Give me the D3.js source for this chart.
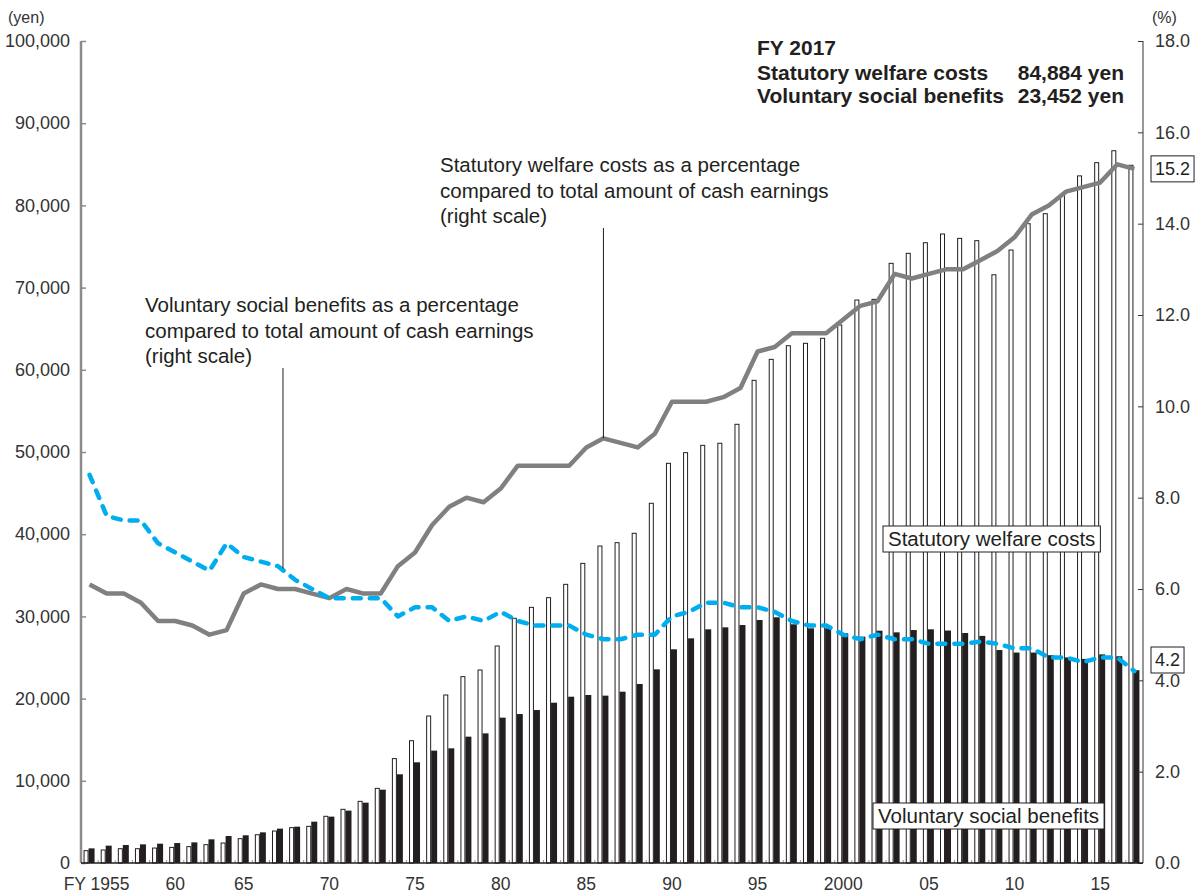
<!DOCTYPE html>
<html>
<head>
<meta charset="utf-8">
<title>welfare costs</title>
<script src="https://cdnjs.cloudflare.com/ajax/libs/d3/7.8.5/d3.min.js"></script>
<style>
  body { margin: 0; background: #fff; }
  svg { font-family: "Liberation Sans", Arial, Helvetica, sans-serif; }
  .tick text { fill: #333; font-size: 18px; }
  .note { fill: #231f20; font-size: 20.5px; }
  .head { fill: #231f20; font-size: 21px; font-weight: bold; }
</style>
</head>
<body>
<svg width="1200" height="895"></svg>
<script>
// survey years (one year missing in the early 60s)
var years = [1955,1956,1957,1958,1959,1960,1962,1963,1964,1965,1966,1967,1968,1969,
  1970,1971,1972,1973,1974,1975,1976,1977,1978,1979,1980,1981,1982,1983,1984,1985,
  1986,1987,1988,1989,1990,1991,1992,1993,1994,1995,1996,1997,1998,1999,2000,2001,
  2002,2003,2004,2005,2006,2007,2008,2009,2010,2011,2012,2013,2014,2015,2016,2017];

// statutory welfare costs (yen)
var statutory = [1500,1580,1740,1740,1820,1900,1990,2230,2430,2960,3440,3890,4300,4460,
  5680,6530,7500,9080,12700,14880,17880,20440,22670,23480,26400,29770,31100,32280,33900,36450,
  38560,38970,40110,43760,48620,49920,50810,51060,53370,58720,61270,62930,63220,63830,65450,68490,
  68570,72950,74170,75460,76520,75990,75710,71560,74570,77770,78990,81240,83590,85200,86650,84884];

// voluntary social benefits (yen)
var voluntary = [1780,2110,2190,2270,2350,2430,2510,2880,3280,3370,3730,4180,4420,5030,
  5640,6370,7340,8920,10790,12250,13670,13950,15370,15770,17680,18120,18610,19500,20230,20440,
  20360,20840,21780,23560,26000,27330,28430,28670,28950,29560,29890,29040,28550,28550,27940,27530,
  28260,28060,28340,28430,28280,27980,27630,25910,25600,25600,25280,25010,24830,25380,25150,23452];

// statutory as % of cash earnings
var statPct = [6.1,5.9,5.9,5.7,5.3,5.3,5.2,5.0,5.1,5.9,6.1,6.0,6.0,5.9,
  5.8,6.0,5.9,5.9,6.5,6.8,7.4,7.8,8.0,7.9,8.2,8.7,8.7,8.7,8.7,9.1,
  9.3,9.2,9.1,9.4,10.1,10.1,10.1,10.2,10.4,11.2,11.3,11.6,11.6,11.6,11.9,12.2,
  12.3,12.9,12.8,12.9,13.0,13.0,13.2,13.4,13.7,14.2,14.4,14.7,14.8,14.9,15.3,15.2];

// voluntary as % of cash earnings
var volPct = [8.5,7.6,7.5,7.5,7.0,6.8,6.6,6.4,7.0,6.7,6.6,6.5,6.2,6.0,
  5.8,5.8,5.8,5.8,5.4,5.6,5.6,5.3,5.4,5.3,5.5,5.3,5.2,5.2,5.2,5.0,
  4.9,4.9,5.0,5.0,5.4,5.5,5.7,5.7,5.6,5.6,5.5,5.3,5.2,5.2,5.0,4.9,
  5.0,4.9,4.9,4.8,4.8,4.8,4.85,4.8,4.7,4.7,4.5,4.5,4.4,4.5,4.5,4.2];

var labelYears = [1955,1960,1965,1970,1975,1980,1985,1990,1995,2000,2005,2010,2015];
var labelText = ["FY 1955","60","65","70","75","80","85","90","95","2000","05","10","15"];
var leftTicks = d3.range(0, 100001, 10000);
var rightTicks = d3.range(0, 18.01, 2);

var svg = d3.select("svg");
var plotL = 81, plotR = 1143, plotT = 41, plotB = 863;

var x = d3.scaleBand().domain(years).range([plotL, plotR]);
var xc = function(y) { return x(y) + x.bandwidth() / 2; };
var yL = d3.scaleLinear().domain([0, 100000]).range([plotB, plotT]);
var yR = d3.scaleLinear().domain([0, 18]).range([plotB, plotT]);

var rows = years.map(function(y, i) {
  return {year: y, stat: statutory[i], vol: voluntary[i], sp: statPct[i], vp: volPct[i]};
});

// bars
svg.append("g").selectAll("rect").data(rows).enter().append("rect")
  .attr("x", function(d) { return xc(d.year) - 5.5; })
  .attr("width", 4)
  .attr("y", function(d) { return yL(d.stat); })
  .attr("height", function(d) { return plotB - yL(d.stat); })
  .style("fill", "#fff").style("stroke", "#231f20").style("stroke-width", 1);

svg.append("g").selectAll("rect").data(rows).enter().append("rect")
  .attr("x", function(d) { return xc(d.year) - 1; })
  .attr("width", 6)
  .attr("y", function(d) { return yL(d.vol); })
  .attr("height", function(d) { return plotB - yL(d.vol); })
  .style("fill", "#231f20");

// axes
var axL = svg.append("g").attr("transform", "translate(" + plotL + ",0)")
  .call(d3.axisLeft(yL).tickValues(leftTicks).tickFormat(d3.format(",")).tickSize(-5).tickPadding(11));
axL.select(".domain").remove();
axL.selectAll(".tick line").style("stroke", "#8c8c8c").style("stroke-width", 1.5);
svg.append("line").attr("x1", plotL).attr("x2", plotL).attr("y1", plotT).attr("y2", plotB)
  .style("stroke", "#8c8c8c").style("stroke-width", 2.5);

var axR = svg.append("g").attr("transform", "translate(" + plotR + ",0)")
  .call(d3.axisRight(yR).tickValues(rightTicks).tickFormat(d3.format(".1f")).tickSize(-5).tickPadding(12));
axR.select(".domain").remove();
axR.selectAll(".tick line").style("stroke", "#333");
svg.append("line").attr("x1", plotR).attr("x2", plotR).attr("y1", plotT).attr("y2", plotB)
  .style("stroke", "#333").style("stroke-width", 1);

// bottom axis: small ticks between the year pairs
svg.append("g").selectAll("line").data(years.slice(1)).enter().append("line")
  .attr("x1", function(y) { return x(y); }).attr("x2", function(y) { return x(y); })
  .attr("y1", plotB).attr("y2", plotB - 3)
  .style("stroke", "#999").style("stroke-width", 1);
svg.append("line").attr("x1", plotL).attr("x2", plotR).attr("y1", plotB).attr("y2", plotB)
  .style("stroke", "#231f20").style("stroke-width", 1.5);

var axB = svg.append("g").attr("transform", "translate(0," + plotB + ")")
  .call(d3.axisBottom(x).tickValues(labelYears).tickSize(0).tickPadding(15)
    .tickFormat(function(y) { return labelText[labelYears.indexOf(y)]; }));
axB.select(".domain").remove();
axB.selectAll(".tick text").style("font-size", "17.5px")
  .attr("dx", function(y) { return y === 1955 ? 7 : 0; });

svg.append("text").attr("x", 8).attr("y", 23).text("(yen)").style("font-size", "16px").style("fill", "#333");
svg.append("text").attr("x", 1152).attr("y", 23).text("(%)").style("font-size", "16px").style("fill", "#333");

// lines
var lineS = d3.line().x(function(d) { return xc(d.year); }).y(function(d) { return yR(d.sp); });
var lineV = d3.line().x(function(d) { return xc(d.year); }).y(function(d) { return yR(d.vp); });

svg.append("path").datum(rows).attr("d", lineS)
  .style("fill", "none").style("stroke", "#808080").style("stroke-width", 4.5)
  .style("stroke-linejoin", "round");
svg.append("path").datum(rows).attr("d", lineV)
  .style("fill", "none").style("stroke", "#00aeef").style("stroke-width", 4.5)
  .style("stroke-dasharray", "8,9").style("stroke-linecap", "round").style("stroke-linejoin", "round");

// callouts
function note(x0, y0, lines) {
  var t = svg.append("text").attr("class", "note").attr("x", x0).attr("y", y0);
  lines.forEach(function(s, i) {
    t.append("tspan").attr("x", x0).attr("dy", i === 0 ? 0 : 25.5).text(s);
  });
}
note(440, 172, ["Statutory welfare costs as a percentage", "compared to total amount of cash earnings", "(right scale)"]);
note(145, 312, ["Voluntary social benefits as a percentage", "compared to total amount of cash earnings", "(right scale)"]);

svg.append("line").attr("x1", xc(1986)).attr("x2", xc(1986)).attr("y1", 228).attr("y2", yR(9.3))
  .style("stroke", "#231f20").style("stroke-width", 1);
svg.append("line").attr("x1", xc(1967) + 5).attr("x2", xc(1967) + 5).attr("y1", 368).attr("y2", yR(6.45))
  .style("stroke", "#231f20").style("stroke-width", 1);

// boxed labels
function boxLabel(x0, yMid, txt, size, pad) {
  var g = svg.append("g");
  var t = g.append("text").attr("x", x0 + pad).attr("y", yMid).attr("dy", "0.35em")
    .text(txt).style("font-size", size + "px").style("fill", "#231f20");
  var bb = t.node().getBBox();
  g.insert("rect", "text").attr("x", x0).attr("y", yMid - 13).attr("width", bb.width + 2 * pad).attr("height", 26)
    .style("fill", "#fff").style("stroke", "#231f20").style("stroke-width", 1);
}
boxLabel(883, 539, "Statutory welfare costs", 20.5, 5);
boxLabel(873, 816, "Voluntary social benefits", 20.5, 5);
boxLabel(1151, yR(15.2), "15.2", 18, 4);
boxLabel(1151, 660, "4.2", 18, 4);

// FY2017 summary
var sumLabels = ["Statutory welfare costs", "Voluntary social benefits"];
var sumValues = ["84,884 yen", "23,452 yen"];
svg.append("text").attr("class", "head").attr("x", 757).attr("y", 55).text("FY 2017");
sumLabels.forEach(function(s, i) {
  svg.append("text").attr("class", "head").attr("x", 757).attr("y", 80 + i * 23).text(s);
  svg.append("text").attr("class", "head").attr("x", 1124).attr("y", 80 + i * 23)
    .attr("text-anchor", "end").text(sumValues[i]);
});
</script>
</body>
</html>
